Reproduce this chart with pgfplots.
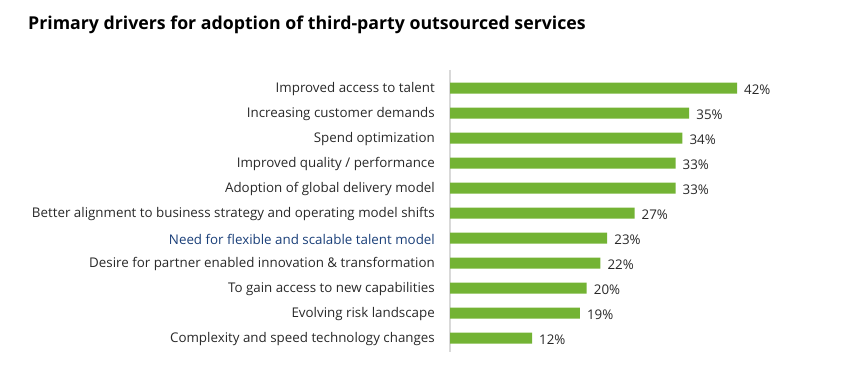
\documentclass[border=0pt]{standalone}
\usepackage{fontspec}
\setmainfont{Open Sans}
\usepackage{pgfplots}
\pgfplotsset{compat=1.18}
\definecolor{barg}{RGB}{115,179,52}
\definecolor{txt}{RGB}{40,40,40}
\definecolor{blu}{RGB}{25,62,120}
\definecolor{axg}{RGB}{217,217,217}
\begin{document}
\begin{tikzpicture}[x=1bp,y=1bp]
\useasboundingbox (0,0) rectangle (850,369);
\node[anchor=base west, font=\bfseries\fontsize{17.8}{21}\selectfont, text=black, inner sep=0] at (28,340) {Primary drivers for adoption of third-party outsourced services};
\begin{axis}[
  at={(450bp,17bp)}, anchor=south west,
  scale only axis, width=341.67bp, height=282bp,
  xmin=0, xmax=50, ymin=-0.72, ymax=10.56, y dir=reverse,
  xbar, bar width=11bp,
  axis lines=left,
  x axis line style={draw=none},
  y axis line style={draw=axg, line width=1.2bp, -},
  xtick=\empty,
  ytick={0,1,2,3,4,5,6,7,8,9,10},
  yticklabels={Improved access to talent,Increasing customer demands,Spend optimization,Improved quality / performance,Adoption of global delivery model,Better alignment to business strategy and operating model shifts,{\textcolor{blu}{Need for flexible and scalable talent model}},Desire for partner enabled innovation \& transformation,To gain access to new capabilities,Evolving risk landscape,Complexity and speed technology changes},
  major tick length=0,
  yticklabel style={font=\fontsize{13.4}{16}\selectfont, text=txt, inner sep=0, xshift=-15bp, yshift=-1.3bp},
  /pgf/number format/assume math mode=true,
  nodes near coords={\pgfmathprintnumber\pgfplotspointmeta\%},
  nodes near coords align={horizontal},
  every node near coord/.append style={font=\fontsize{13.4}{16}\selectfont, text=txt, inner sep=0, xshift=7bp, yshift=-1.3bp},
  clip=false,
]
\addplot[fill=barg, draw=none] coordinates {(42,0) (35,1) (34,2) (33,3) (33,4) (27,5) (23,6) (22,7) (20,8) (19,9) (12,10)};
\end{axis}
\end{tikzpicture}
\end{document}
